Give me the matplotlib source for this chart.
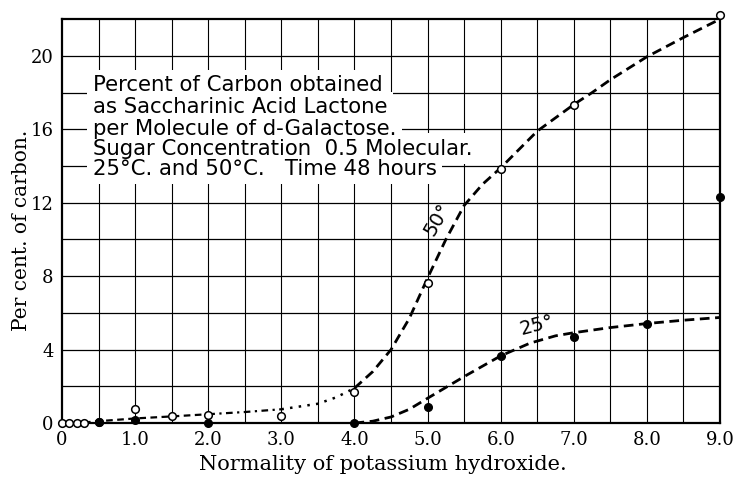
import numpy as np
import matplotlib
matplotlib.use("Agg")
import matplotlib.pyplot as plt

# puntos medidos a 50 grados (circulos abiertos)
x_50 = [0, 0.1, 0.2, 0.3, 0.5, 1.0, 1.5, 2.0, 3.0, 4.0, 5.0, 6.0, 7.0, 9.0]
y_50 = [0, 0, 0, 0, 0.07, 0.75, 0.38, 0.45, 0.38, 1.7, 7.65, 13.85, 17.3, 22.2]

# puntos medidos a 25 grados (circulos llenos)
x_25 = [0.5, 1.0, 2.0, 4.0, 5.0, 6.0, 7.0, 8.0, 9.0]
y_25 = [0.03, 0.18, 0.0, 0.0, 0.9, 3.66, 4.7, 5.38, 12.3]

# curvas dibujadas a mano
curva_50_x = [0.3, 0.5, 1.0, 1.5, 2.0, 2.5, 3.0, 3.5, 3.75, 4.0, 4.25, 4.5, 4.75,
              5.0, 5.25, 5.5, 5.75, 6.0, 6.5, 7.0, 7.25, 7.5, 8.0, 8.5, 9.0]
curva_50_y = [0.03, 0.1, 0.25, 0.36, 0.48, 0.6, 0.75, 1.05, 1.4, 1.9, 2.8, 4.0, 5.7,
              7.9, 10.0, 11.85, 13.0, 13.9, 15.9, 17.35, 18.0, 18.7, 19.95, 21.0, 22.0]

curva_25_x = [4.0, 4.25, 4.5, 4.75, 5.0, 5.5, 6.0, 6.4, 6.75, 7.0, 7.5, 8.0, 8.5, 9.0]
curva_25_y = [0.0, 0.1, 0.33, 0.75, 1.35, 2.53, 3.66, 4.35, 4.75, 4.92, 5.2, 5.42, 5.6, 5.75]

x_ticks = [0, 1, 2, 3, 4, 5, 6, 7, 8, 9]
x_tick_labels = ["0", "1.0", "2.0", "3.0", "4.0", "5.0", "6.0", "7.0", "8.0", "9.0"]
y_ticks = [0, 4, 8, 12, 16, 20]

texto = ["Percent of Carbon obtained",
         "as Saccharinic Acid Lactone",
         "per Molecule of d-Galactose.",
         "Sugar Concentration  0.5 Molecular.",
         "25°C. and 50°C.   Time 48 hours"]
texto_y = [18.4, 17.2, 16.0, 14.95, 13.85]

fig = plt.figure(figsize=(7.34, 4.78), dpi=100)
ax = fig.add_axes([0.0845, 0.115, 0.8965, 0.845])

serif = "DejaVu Serif"
sans = "DejaVu Sans"

# rejilla
for gx in np.arange(0.5, 9.0, 0.5):
    ax.axvline(gx, color="black", lw=0.8, zorder=1)
for gy in np.arange(2, 22, 2):
    ax.axhline(gy, color="black", lw=0.9, zorder=1)

# texto: primero los fondos blancos que tapan la rejilla, luego las letras
for t, ty in zip(texto, texto_y):
    ax.text(0.42, ty, t, fontsize=15.3, family=sans, va="center", ha="left", color="white",
            bbox=dict(facecolor="white", edgecolor="none", pad=4), zorder=2)
for t, ty in zip(texto, texto_y):
    ax.text(0.42, ty, t, fontsize=15.3, family=sans, va="center", ha="left",
            color="black", zorder=2.5)

# curva 50 grados
c50x = np.array(curva_50_x)
c50y = np.array(curva_50_y)
tramo = c50x <= 2.0
ax.plot(c50x[tramo], c50y[tramo], color="black", lw=1.6, ls=(0, (3, 2)), zorder=3)
tramo = (c50x >= 2.0) & (c50x <= 3.0)
ax.plot(c50x[tramo], c50y[tramo], color="black", lw=1.6, ls=(0, (3, 2, 1, 2)), zorder=3)
tramo = (c50x >= 3.0) & (c50x <= 4.0)
ax.plot(c50x[tramo], c50y[tramo], color="black", lw=1.8, ls=(0, (1, 2.5)), zorder=3)
tramo = c50x >= 4.0
ax.plot(c50x[tramo], c50y[tramo], color="black", lw=2.0, ls=(0, (3.5, 2)), zorder=3,
        clip_on=False)

# curva 25 grados
ax.plot(curva_25_x, curva_25_y, color="black", lw=2.0, ls=(0, (3.5, 2)), zorder=3)

ax.plot(x_50, y_50, "o", ms=5.5, mfc="white", mec="black", mew=1.1, zorder=4, clip_on=False)
ax.plot(x_25, y_25, "o", ms=5.5, color="black", zorder=4, clip_on=False)

ax.text(5.13, 11.1, "50°", fontsize=14, family=sans, rotation=60, ha="center", va="center")
ax.text(6.5, 5.35, "25°", fontsize=14, family=sans, rotation=15, ha="center", va="center")

ax.set_xlim(0, 9)
ax.set_ylim(0, 22)
ax.set_xticks(x_ticks)
ax.set_xticklabels(x_tick_labels)
ax.set_yticks(y_ticks)
ax.tick_params(length=0, labelsize=13, pad=6)
for lab in ax.get_xticklabels() + ax.get_yticklabels():
    lab.set_family(serif)
for s in ax.spines.values():
    s.set_linewidth(1.6)

ax.set_xlabel("Normality of potassium hydroxide.", family=serif, fontsize=15)
ax.set_ylabel("Per cent. of carbon.", family=serif, fontsize=14.5)
ax.xaxis.set_label_coords(0.488, -0.078)
ax.yaxis.set_label_coords(-0.047, 0.478)

fig.savefig("out.png", dpi=100)
